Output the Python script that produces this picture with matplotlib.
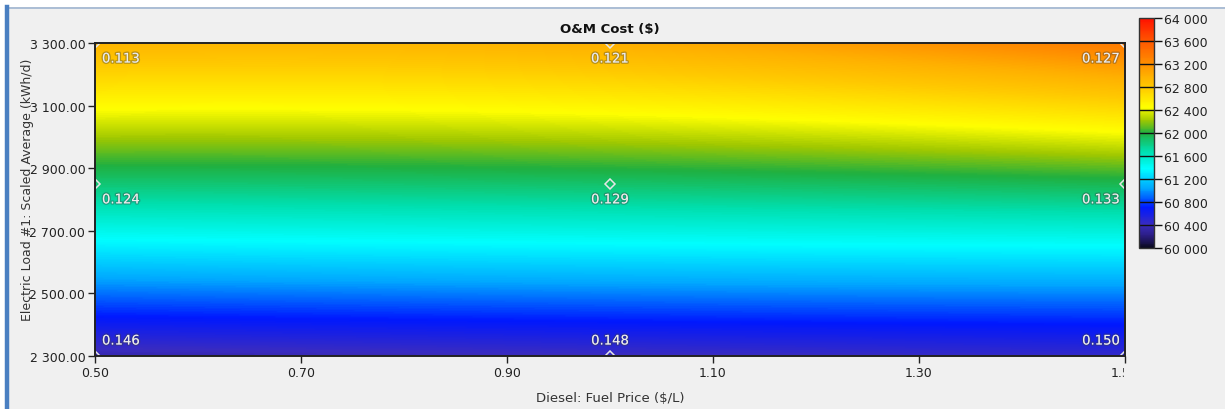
import numpy as np
import matplotlib
matplotlib.use("Agg")
import matplotlib.pyplot as plt
from matplotlib.colors import LinearSegmentedColormap, Normalize
from matplotlib.patches import Rectangle
from matplotlib.lines import Line2D
from matplotlib.transforms import Bbox
import matplotlib.patheffects as pe

# Sensitivity grid: diesel fuel price vs. scaled average electric load
fuel_price = [0.50, 1.00, 1.50]          # $/L
load_avg = [2300.0, 2850.0, 3300.0]      # kWh/d

# O&M cost ($) at each grid node, rows follow load_avg
om_cost = [
    [60350.0, 60400.0, 60450.0],
    [61850.0, 61880.0, 61950.0],
    [62950.0, 63000.0, 63350.0],
]

# Secondary value shown at each node
node_labels = [
    ["0.146", "0.148", "0.150"],
    ["0.124", "0.129", "0.133"],
    ["0.113", "0.121", "0.127"],
]

x_ticks = [0.50, 0.70, 0.90, 1.10, 1.30, 1.50]
y_ticks = [2300, 2500, 2700, 2900, 3100, 3300]
cbar_min, cbar_max, cbar_step = 60000, 64000, 400

W, H = 1225, 410
fig = plt.figure(figsize=(W / 100, H / 100), dpi=100, facecolor="white")

# window panel with blue frame
fig.patches.append(Rectangle((6 / W, 0), 1 - 6 / W, 1 - 8 / H, transform=fig.transFigure,
                             facecolor="#f0f0f0", edgecolor="none", zorder=-10))
fig.lines.append(Line2D([6 / W, 1], [1 - 8.5 / H, 1 - 8.5 / H], transform=fig.transFigure,
                        color="#9fb4d0", lw=1.2))
fig.lines.append(Line2D([6.5 / W, 6.5 / W], [0, 1 - 8 / H], transform=fig.transFigure,
                        color="#4a7fc1", lw=3.2))

cmap = LinearSegmentedColormap.from_list("homer", [
    (0.000, "#0a0a20"),
    (0.050, "#2a1c80"),
    (0.100, "#3a2cc0"),
    (0.175, "#0018ff"),
    (0.260, "#00a8ff"),
    (0.345, "#00ffff"),
    (0.420, "#00e0b0"),
    (0.500, "#20b040"),
    (0.555, "#a0c800"),
    (0.6125, "#ffff00"),
    (0.700, "#ffc800"),
    (0.750, "#ffb000"),
    (0.800, "#ff9000"),
    (0.850, "#ff7400"),
    (0.900, "#ff5800"),
    (1.000, "#ff1000"),
])
norm = Normalize(cbar_min, cbar_max)

ax = fig.add_axes([95 / W, 1 - 357 / H, (1125 - 95) / W, (357 - 44) / H])

# smooth biquadratic surface through the grid nodes
xs = np.array(fuel_price)
ys = np.array(load_avg)
Z = np.array(om_cost)

def lagrange_weights(nodes, t):
    w = []
    for i in range(len(nodes)):
        wi = np.ones_like(t)
        for j in range(len(nodes)):
            if j != i:
                wi = wi * (t - nodes[j]) / (nodes[i] - nodes[j])
        w.append(wi)
    return np.array(w)

gx = np.linspace(xs[0], xs[-1], 600)
gy = np.linspace(ys[0], ys[-1], 300)
wx = lagrange_weights(xs, gx)   # (3, nx)
wy = lagrange_weights(ys, gy)   # (3, ny)
field = wy.T @ Z @ wx           # (ny, nx)

ax.imshow(field, origin="lower", extent=[xs[0], xs[-1], ys[0], ys[-1]],
          cmap=cmap, norm=norm, aspect="auto", interpolation="bilinear")
ax.set_xlim(xs[0], xs[-1])
ax.set_ylim(ys[0], ys[-1])

# node markers (clipped at the frame edges) and node values
label_fx = dict(color="#eeeeee", fontsize=9.5,
                path_effects=[pe.withStroke(linewidth=2, foreground=(0.25, 0.25, 0.25, 0.35))])
for r, yv in enumerate(ys):
    for c, xv in enumerate(xs):
        mk, = ax.plot(xv, yv, marker="D", ms=5.6, mfc="none", mec="#e6e6e6", mew=1.1,
                      zorder=5)
        mk.set_clip_path(ax.patch)
        ha = ["left", "center", "right"][c]
        dx = [7, 0, -5][c]
        dy = 15 if r == 0 else -16
        ax.annotate(node_labels[r][c], (xv, yv), xytext=(dx, dy), textcoords="offset pixels",
                    ha=ha, va="center", zorder=6, **label_fx)

ax.set_xticks(x_ticks)
ax.set_xticklabels([f"{v:.2f}" for v in x_ticks])
ax.set_yticks(y_ticks)
ax.set_yticklabels([f"{v:,.2f}".replace(",", " ") for v in y_ticks])
ax.tick_params(axis="both", direction="out", length=5, width=1, color="#222222",
               labelsize=9, labelcolor="#222222", pad=2)

for s in ax.spines.values():
    s.set_color("#222222")
    s.set_linewidth(1.4)
    s.set_zorder(7)

ax.set_title("O&M Cost ($)", fontsize=9.5, fontweight="bold", color="#111111", pad=8)
ax.set_xlabel("Diesel: Fuel Price ($/L)", fontsize=9.5, color="#333333", labelpad=9)
ax.set_ylabel("Electric Load #1: Scaled Average (kWh/d)", fontsize=9, color="#333333",
              va="center")
ax.yaxis.set_label_coords(-0.0655, 0.535)

# colour scale
cax = fig.add_axes([1139 / W, 1 - 249 / H, 15 / W, (249 - 19) / H])
sm = matplotlib.cm.ScalarMappable(norm=norm, cmap=cmap)
cb = fig.colorbar(sm, cax=cax)
cticks = list(range(cbar_min, cbar_max + 1, cbar_step))
cb.set_ticks(cticks)
cb.set_ticklabels([f"{v:,}".replace(",", " ") for v in cticks])
cax.tick_params(direction="out", length=6, width=1, color="#111111",
                labelsize=9, labelcolor="#222222", pad=1)
for v in cticks[1:-1]:
    cax.axhline(v, color="#111111", lw=1)
cb.outline.set_edgecolor("#333333")
cb.outline.set_linewidth(1)

# last x tick label is cut at the plot's right edge
fig.canvas.draw()
for tick in ax.xaxis.get_major_ticks():
    tick.label1.set_clip_on(True)
    tick.label1.set_clip_box(Bbox([[0, 0], [1123.5, H]]))

fig.savefig("out.png", dpi=100, facecolor=fig.get_facecolor())
